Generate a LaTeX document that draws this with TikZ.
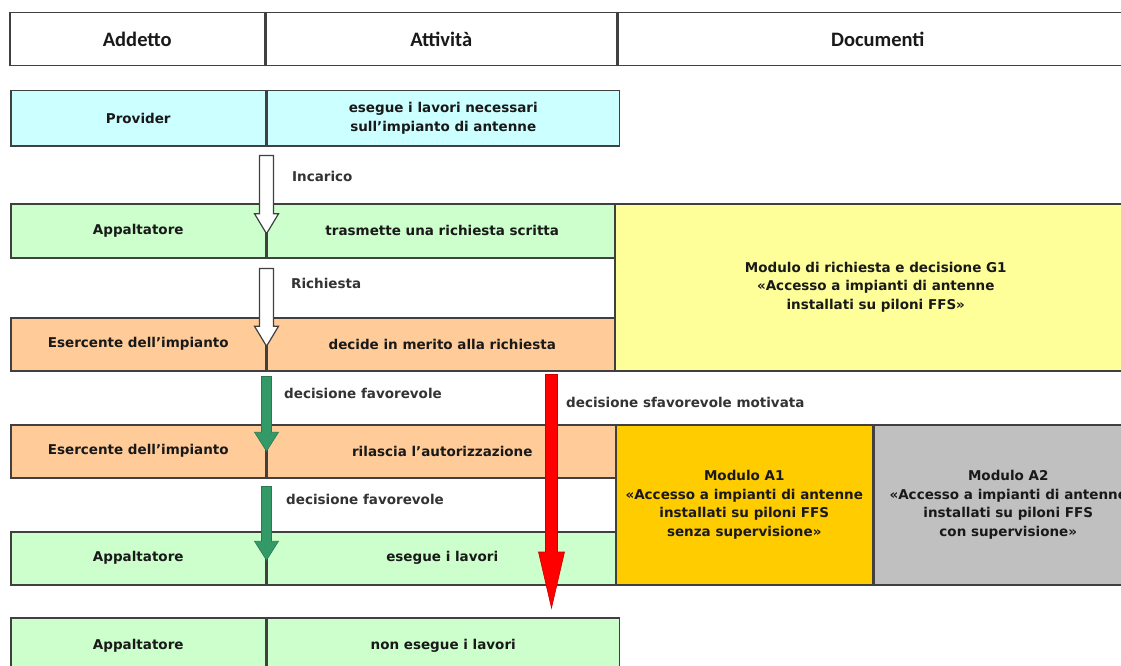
\documentclass[tikz,border=0pt]{standalone}
\usepackage{fontspec}
\setmainfont{DejaVu Sans}
\newfontfamily\headfont{Carlito}
\usepackage{tikz}
\usetikzlibrary{calc}
\usepackage{xcolor}
\definecolor{rowCyan}{RGB}{204, 255, 255}
\definecolor{rowGreen}{RGB}{204, 255, 204}
\definecolor{rowOrange}{RGB}{255, 204, 153}
\definecolor{docYellow}{RGB}{255, 255, 153}
\definecolor{docGold}{RGB}{255, 204, 0}
\definecolor{docGray}{RGB}{192, 192, 192}
\definecolor{okGreen}{RGB}{51, 153, 102}
\definecolor{noRed}{RGB}{255, 0, 0}
\definecolor{frameGray}{RGB}{64, 64, 64}

% block arrow pointing down: style, from, to, half shaft, half head, head length
\newcommand{\blockarrow}[6]{%
  \draw[#1] ($(#2)+(-#4,0)$) -- ($(#3)+(-#4,-#6)$) -- ($(#3)+(-#5,-#6)$) -- (#3)
    -- ($(#3)+(#5,-#6)$) -- ($(#3)+(#4,-#6)$) -- ($(#2)+(#4,0)$) -- cycle;}

\begin{document}
\begin{tikzpicture}[x=1pt, y=-1pt,
  cell/.style={draw=frameGray, line width=1.5pt, anchor=north west, inner sep=0pt,
    align=center, text=black!90, minimum height=54pt,
    font=\fontsize{13.5}{18.5}\selectfont\bfseries},
  head/.style={cell, fill=white, minimum height=53pt,
    font=\headfont\fontsize{20.5}{24}\selectfont\bfseries},
  lbl/.style={anchor=west, inner sep=0pt, text=black!80,
    font=\fontsize{13.5}{18.5}\selectfont\bfseries},
  hollow/.style={draw=frameGray, line width=1.2pt, fill=white},
  okarrow/.style={draw=okGreen!80!black, line width=0.6pt, fill=okGreen},
  noarrow/.style={draw=noRed!80!black, line width=0.6pt, fill=noRed}]
  \fill[white] (0,0) rectangle (1121,666);
  \useasboundingbox (0,0) rectangle (1121,666);

  % Header
  \node[head, minimum width=255pt] (hAdd) at (9,12) {Addetto};
  \node[head, minimum width=350pt] (hAtt) at (hAdd.north east) {Attività};
  \node[head, minimum width=520pt] (hDoc) at (hAtt.north east) {Documenti};

  % Rows: who and what
  \node[cell, fill=rowCyan, minimum width=255pt, minimum height=55pt] (provA) at (10,90) {Provider};
  \node[cell, fill=rowCyan, minimum width=352pt, minimum height=55pt] (provB) at (provA.north east)
    {esegue i lavori necessari\\sull'impianto di antenne};

  \node[cell, fill=rowGreen, minimum width=255pt] (appA) at (10,203) {Appaltatore};
  \node[cell, fill=rowGreen, minimum width=350pt] (appB) at (appA.north east) {trasmette una richiesta scritta};

  \node[cell, fill=rowOrange, minimum width=255pt, minimum height=53pt] (eseA) at (10,317) {Esercente dell'impianto};
  \node[cell, fill=rowOrange, minimum width=350pt, minimum height=53pt] (eseB) at (eseA.north east) {decide in merito alla richiesta};

  \node[cell, fill=rowOrange, minimum width=255pt, minimum height=53pt] (autA) at (10,424) {Esercente dell'impianto};
  \node[cell, fill=rowOrange, minimum width=350pt, minimum height=53pt] (autB) at (autA.north east) {rilascia l'autorizzazione};

  \node[cell, fill=rowGreen, minimum width=255pt, minimum height=53pt] (lavA) at (10,531) {Appaltatore};
  \node[cell, fill=rowGreen, minimum width=350pt, minimum height=53pt] (lavB) at (lavA.north east) {esegue i lavori};

  \node[cell, fill=rowGreen, minimum width=255pt, minimum height=56pt] (nolA) at (10,617) {Appaltatore};
  \node[cell, fill=rowGreen, minimum width=352pt, minimum height=56pt] (nolB) at (nolA.north east) {non esegue i lavori};

  % Documents
  \node[cell, fill=docYellow, minimum width=522pt, minimum height=167pt] (docG) at (614,203)
    {Modulo di richiesta e decisione G1\\«Accesso a impianti di antenne\\installati su piloni FFS»};
  \node[cell, fill=docGold, minimum width=257pt, minimum height=160pt] (docA1) at (615,424)
    {Modulo A1\\«Accesso a impianti di antenne\\installati su piloni FFS\\senza supervisione»};
  \node[cell, fill=docGray, minimum width=268pt, minimum height=160pt] (docA2) at (docA1.north east)
    {Modulo A2\\«Accesso a impianti di antenne\\installati su piloni FFS\\con supervisione»};

  % Arrows between the rows
  \coordinate (inc0) at ($(provA.south east)+(0,9)$);
  \coordinate (inc1) at ($(appA.east)+(0,3)$);
  \coordinate (ric0) at ($(appA.south east)+(0,10)$);
  \coordinate (ric1) at ($(eseA.east)+(0,2)$);
  \coordinate (fav0) at ($(eseA.south east)+(0,5)$);
  \coordinate (fav1) at (autA.east);
  \coordinate (gop0) at ($(autA.south east)+(0,8)$);
  \coordinate (gop1) at ($(lavA.east)+(0,2)$);
  \coordinate (sfa0) at ($(eseB.south west)+(285,3)$);
  \coordinate (sfa1) at ($(nolB.north west)+(285,-9)$);

  \blockarrow{hollow}{inc0}{inc1}{7}{12}{20}
  \blockarrow{hollow}{ric0}{ric1}{7}{12}{20}
  \blockarrow{okarrow}{fav0}{fav1}{5}{12}{19}
  \blockarrow{okarrow}{gop0}{gop1}{5}{12}{19}
  \blockarrow{noarrow}{sfa0}{sfa1}{6}{13}{56}

  % Arrow labels
  \node[lbl] (lInc) at (292,176) {Incarico};
  \node[lbl] (lRic) at (291,283) {Richiesta};
  \node[lbl] (lFav) at (284,393) {decisione favorevole};
  \node[lbl] (lGop) at (286,499) {decisione favorevole};
  \node[lbl] (lSfa) at (566,402) {decisione sfavorevole motivata};
\end{tikzpicture}
\end{document}
